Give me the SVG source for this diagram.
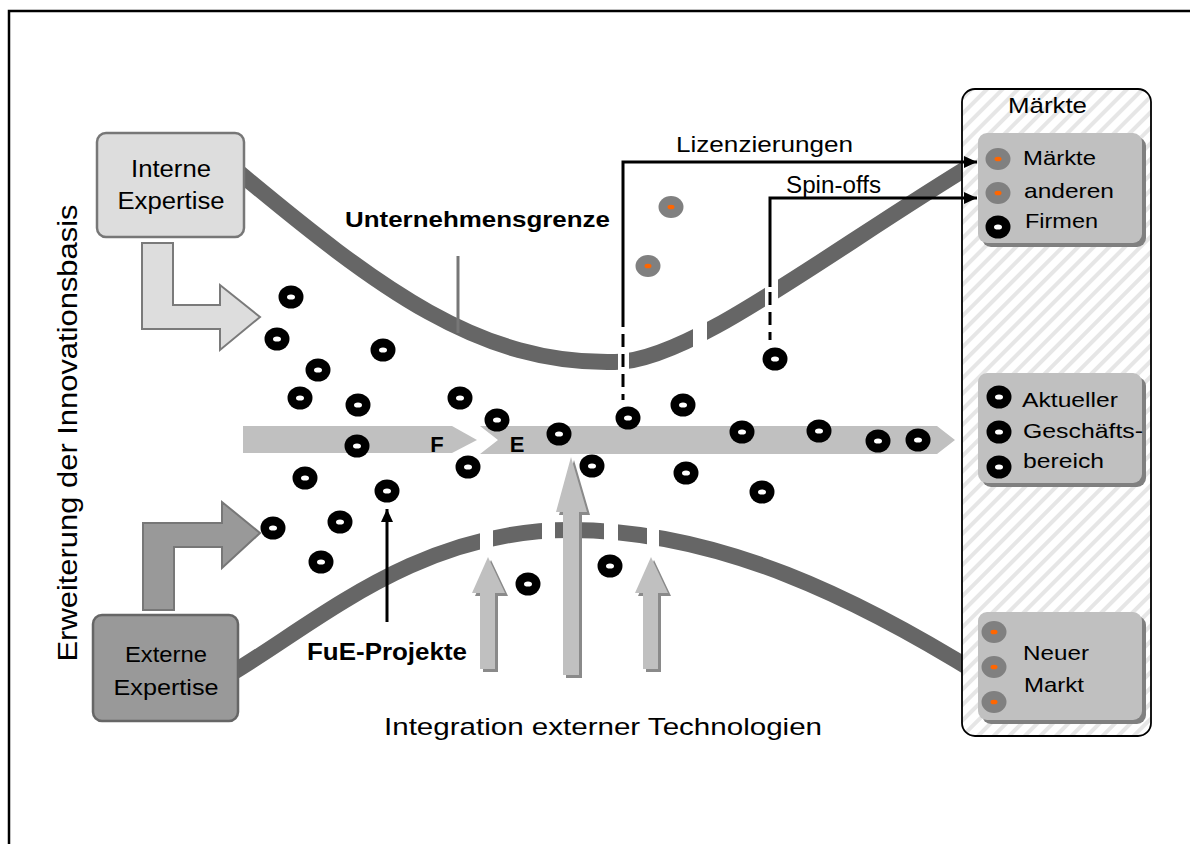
<svg xmlns="http://www.w3.org/2000/svg" xmlns:xlink="http://www.w3.org/1999/xlink" width="1190" height="844" viewBox="0 0 1190 844">
  <style>
    .t { font-family: "Liberation Sans", Arial, sans-serif; fill: #000; }
    .b { font-weight: bold; }
    .band { fill: none; stroke: #666666; stroke-width: 16; }
    .cut { fill: #ffffff; }
    .conn { fill: none; stroke: #000; stroke-width: 3; }
    .dash { stroke-dasharray: 13 7; }
    .bar { fill: #c0c0c0; }
    .up { fill: #c0c0c0; }
    .upsh { fill: #8a8a8a; }
    .sub { fill: #c0c0c0; }
    .subsh { fill: #808080; }
  </style>
  <defs>
    <pattern id="hatch" width="11" height="11" patternUnits="userSpaceOnUse" patternTransform="rotate(45)">
      <rect width="11" height="11" fill="#ffffff"/>
      <rect width="4" height="11" fill="#e6e6e6"/>
    </pattern>
    <g id="dot">
      <ellipse rx="12.5" ry="11.5" fill="#000"/>
      <ellipse rx="4" ry="2.6" fill="#fff"/>
    </g>
    <g id="gdot">
      <ellipse rx="12.5" ry="11" fill="#808080"/>
      <ellipse rx="3.5" ry="2.3" fill="#ff6600"/>
    </g>
    <marker id="ah" markerWidth="14" markerHeight="14" refX="13" refY="7" orient="auto" markerUnits="userSpaceOnUse">
      <path d="M0,1 L13,7 L0,13 Z" fill="#000"/>
    </marker>
  </defs>

  <rect width="1190" height="844" fill="#ffffff"/>

  <!-- frame -->
  <path d="M9,850 V11 H1195" fill="none" stroke="#000" stroke-width="2.5"/>

  <!-- company boundary bands -->
  <g id="boundary">
    <path class="band" d="M236,170 C 380,290 480,365 615,362 C 690,362 830,250 980,160"/>
    <path class="band" d="M232,673 C 320,620 420,530 570,530 C 720,530 860,600 982,676"/>
    <!-- openings in the boundary -->
    <rect class="cut" x="618" y="340" width="11" height="34"/>
    <rect class="cut" x="693" y="315" width="14" height="36"/>
    <rect class="cut" x="765" y="278" width="13" height="36"/>
    <rect class="cut" x="480" y="525" width="13" height="36"/>
    <rect class="cut" x="542" y="515" width="13" height="34"/>
    <rect class="cut" x="604" y="515" width="14" height="34"/>
    <rect class="cut" x="647" y="518" width="12" height="36"/>
  </g>

  <!-- internal expertise -->
  <g id="interne">
    <path d="M142,243 L173,243 L173,305 L220,305 L220,285 L260,317 L220,350 L220,329 L142,329 Z" fill="#dddddd" stroke="#7a7a7a" stroke-width="2"/>
    <rect x="97" y="133" width="147" height="104" rx="9" fill="#dddddd" stroke="#777777" stroke-width="2.5"/>
    <text class="t" x="171" y="177" font-size="23" text-anchor="middle" textLength="80" lengthAdjust="spacingAndGlyphs">Interne</text>
    <text class="t" x="171" y="209" font-size="23" text-anchor="middle" textLength="107" lengthAdjust="spacingAndGlyphs">Expertise</text>
  </g>

  <!-- external expertise -->
  <g id="externe">
    <path d="M143,610 L143,523 L222,523 L222,502 L260,533 L222,568 L222,547 L174,547 L174,610 Z" fill="#999999" stroke="#777777" stroke-width="2"/>
    <rect x="93" y="615" width="145" height="106" rx="9" fill="#999999" stroke="#666666" stroke-width="2.5"/>
    <text class="t" x="166" y="662" font-size="22" text-anchor="middle" textLength="82" lengthAdjust="spacingAndGlyphs">Externe</text>
    <text class="t" x="166" y="695" font-size="22" text-anchor="middle" textLength="105" lengthAdjust="spacingAndGlyphs">Expertise</text>
  </g>

  <!-- research (F) and development (E) stream -->
  <g id="fe-stream">
    <path class="bar" d="M243,426 L452,426 L477,440 L452,453 L243,453 Z"/>
    <path class="bar" d="M480,426 L937,426 L955,440 L937,454 L480,454 L498,440 Z"/>
    <text class="t b" x="437" y="452" font-size="22" text-anchor="middle">F</text>
    <text class="t b" x="517" y="452" font-size="22" text-anchor="middle">E</text>
  </g>

  <!-- projects -->
  <g id="projects">
    <use href="#dot" x="291" y="297"/>
    <use href="#dot" x="277" y="339"/>
    <use href="#dot" x="318" y="370"/>
    <use href="#dot" x="383" y="350"/>
    <use href="#dot" x="300" y="398"/>
    <use href="#dot" x="358" y="405"/>
    <use href="#dot" x="460" y="398"/>
    <use href="#dot" x="497" y="420"/>
    <use href="#dot" x="357" y="446"/>
    <use href="#dot" x="559" y="434"/>
    <use href="#dot" x="628" y="418"/>
    <use href="#dot" x="683" y="405"/>
    <use href="#dot" x="468" y="467"/>
    <use href="#dot" x="592" y="466"/>
    <use href="#dot" x="742" y="432"/>
    <use href="#dot" x="819" y="431"/>
    <use href="#dot" x="878" y="441"/>
    <use href="#dot" x="918" y="440"/>
    <use href="#dot" x="305" y="478"/>
    <use href="#dot" x="387" y="491"/>
    <use href="#dot" x="686" y="473"/>
    <use href="#dot" x="762" y="492"/>
    <use href="#dot" x="273" y="528"/>
    <use href="#dot" x="340" y="522"/>
    <use href="#dot" x="321" y="562"/>
    <use href="#dot" x="528" y="584"/>
    <use href="#dot" x="610" y="566"/>
    <use href="#dot" x="775" y="359"/>
    <use href="#gdot" x="671" y="207"/>
    <use href="#gdot" x="648" y="266"/>
  </g>

  <!-- integration of external technologies -->
  <g id="integration">
    <path class="upsh" d="M566,678 L566,515 L559,515 L574,460 L590,515 L582,515 L582,678 Z"/>
    <path class="up" d="M563,675 L563,512 L556,512 L571,457 L587,512 L579,512 L579,675 Z"/>
    <path class="upsh" d="M483,672 L483,596 L475,596 L491,560 L508,596 L498,596 L498,672 Z"/>
    <path class="up" d="M480,669 L480,593 L472,593 L488,557 L505,593 L495,593 L495,669 Z"/>
    <path class="upsh" d="M646,672 L646,596 L638,596 L654,560 L671,596 L661,596 L661,672 Z"/>
    <path class="up" d="M643,669 L643,593 L635,593 L651,557 L668,593 L658,593 L658,669 Z"/>
  </g>

  <!-- markets -->
  <g id="maerkte">
    <rect x="962" y="89" width="189" height="647" rx="13" fill="url(#hatch)" stroke="#000" stroke-width="1.8"/>
    <text class="t" x="1008" y="113" font-size="22" textLength="79" lengthAdjust="spacingAndGlyphs">Märkte</text>
  </g>
  <g id="markt-andere">
    <rect class="subsh" x="982" y="137" width="164" height="110" rx="9"/>
    <rect class="sub" x="978" y="133" width="164" height="110" rx="9"/>
    <use href="#gdot" x="998" y="159"/>
    <use href="#gdot" x="998" y="193"/>
    <use href="#dot" x="998" y="227"/>
    <text class="t" x="1023" y="165" font-size="21" textLength="73" lengthAdjust="spacingAndGlyphs">Märkte</text>
    <text class="t" x="1024" y="198" font-size="21" textLength="90" lengthAdjust="spacingAndGlyphs">anderen</text>
    <text class="t" x="1025" y="228" font-size="21" textLength="73" lengthAdjust="spacingAndGlyphs">Firmen</text>
  </g>
  <g id="markt-aktuell">
    <rect class="subsh" x="982" y="377" width="164" height="110" rx="9"/>
    <rect class="sub" x="978" y="373" width="164" height="110" rx="9"/>
    <use href="#dot" x="999" y="397"/>
    <use href="#dot" x="999" y="432"/>
    <use href="#dot" x="999" y="467"/>
    <text class="t" x="1022" y="407" font-size="21" textLength="96" lengthAdjust="spacingAndGlyphs">Aktueller</text>
    <text class="t" x="1023" y="438" font-size="21" textLength="120" lengthAdjust="spacingAndGlyphs">Geschäfts-</text>
    <text class="t" x="1023" y="468" font-size="21" textLength="81" lengthAdjust="spacingAndGlyphs">bereich</text>
  </g>
  <g id="markt-neu">
    <rect class="subsh" x="982" y="616" width="164" height="108" rx="9"/>
    <rect class="sub" x="978" y="612" width="164" height="108" rx="9"/>
    <use href="#gdot" x="994" y="632"/>
    <use href="#gdot" x="994" y="667"/>
    <use href="#gdot" x="994" y="702"/>
    <text class="t" x="1023" y="660" font-size="21" textLength="66" lengthAdjust="spacingAndGlyphs">Neuer</text>
    <text class="t" x="1024" y="692" font-size="21" textLength="60" lengthAdjust="spacingAndGlyphs">Markt</text>
  </g>

  <!-- connectors -->
  <g id="connectors">
    <path class="conn" d="M623,327 L623,162 L977,162" marker-end="url(#ah)"/>
    <path class="conn dash" d="M623,334 L623,400"/>
    <path class="conn" d="M770,287 L770,198 L977,198" marker-end="url(#ah)"/>
    <path class="conn dash" d="M770,292 L770,340"/>
    <path class="conn" d="M387,622 L387,509" marker-end="url(#ah)"/>
    <path d="M458,256 L458,333" fill="none" stroke="#777777" stroke-width="3"/>
  </g>

  <!-- labels -->
  <g id="labels">
    <text class="t" x="676" y="152" font-size="22" textLength="177" lengthAdjust="spacingAndGlyphs">Lizenzierungen</text>
    <text class="t" x="786" y="193" font-size="23" textLength="95" lengthAdjust="spacingAndGlyphs">Spin-offs</text>
    <text class="t b" x="345" y="227" font-size="22" textLength="265" lengthAdjust="spacingAndGlyphs">Unternehmensgrenze</text>
    <text class="t b" x="307" y="660" font-size="23" textLength="160" lengthAdjust="spacingAndGlyphs">FuE-Projekte</text>
    <text class="t" x="384" y="735" font-size="24" textLength="438" lengthAdjust="spacingAndGlyphs">Integration externer Technologien</text>
    <text class="t" transform="translate(77,433) rotate(-90)" x="0" y="0" font-size="27" text-anchor="middle" textLength="457" lengthAdjust="spacingAndGlyphs">Erweiterung der Innovationsbasis</text>
  </g>
</svg>
